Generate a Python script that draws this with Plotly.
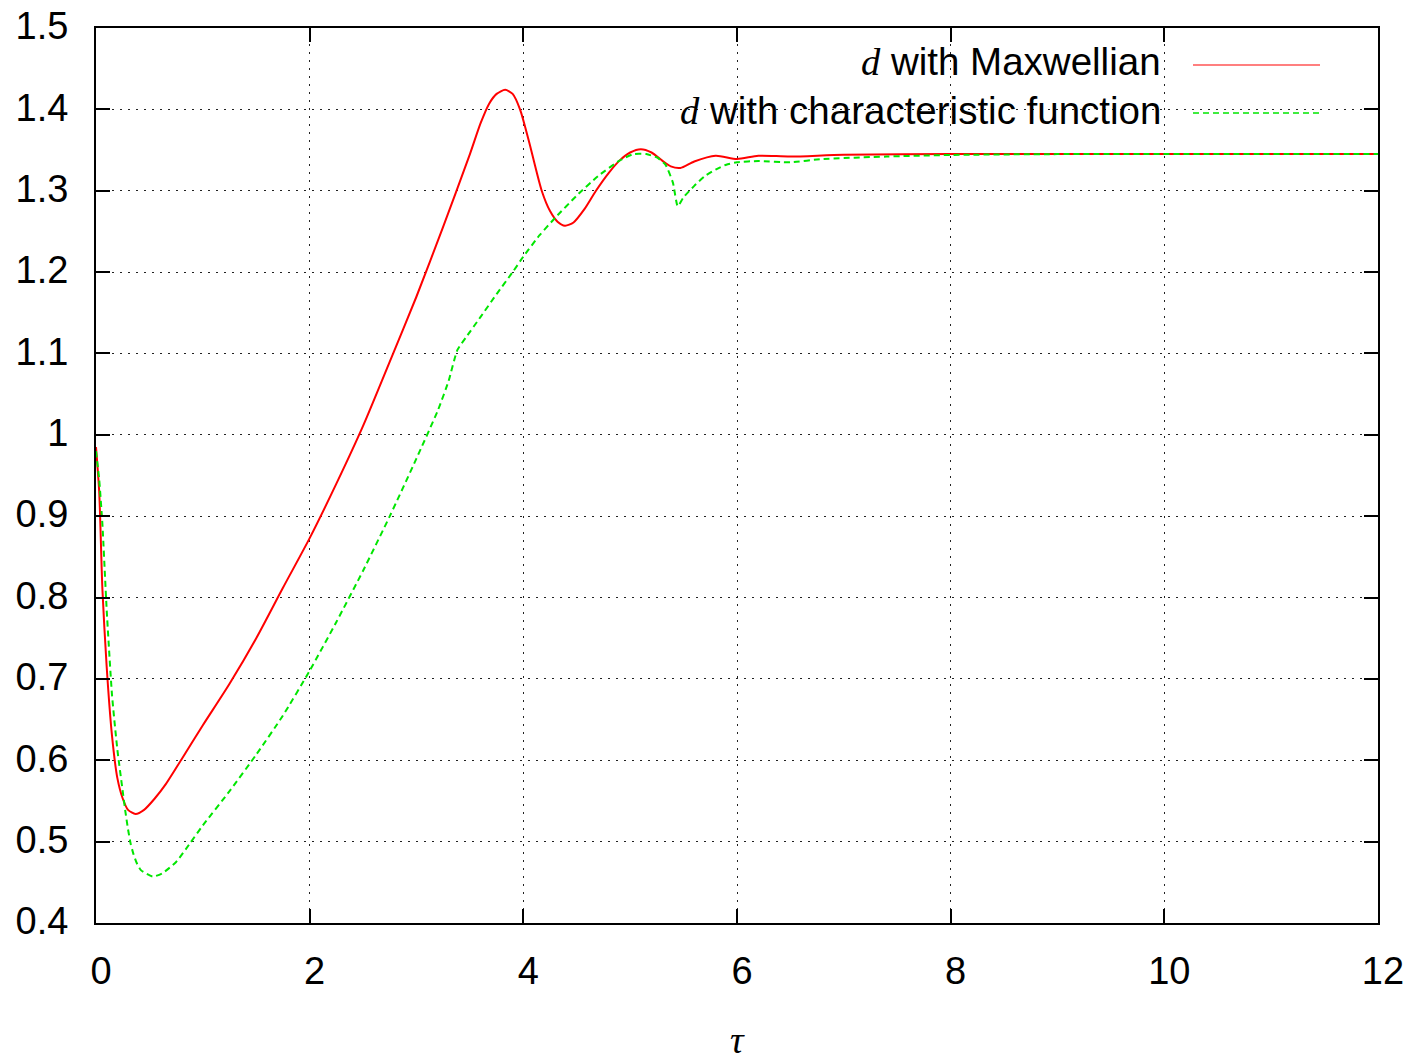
import plotly.graph_objects as go

# tau values and d(tau) for the Maxwellian initial distribution
tau_maxwell = [0.0, 0.03, 0.06, 0.1, 0.15, 0.2, 0.25, 0.3, 0.37, 0.45, 0.55, 0.65,
               0.8, 1.0, 1.25, 1.5, 1.75, 2.0, 2.25, 2.5, 2.75, 3.0, 3.25, 3.5,
               3.6, 3.68, 3.75, 3.83, 3.9, 3.969, 4.05, 4.172, 4.25, 4.32, 4.39,
               4.47, 4.57, 4.68, 4.8, 4.9, 5.0, 5.1, 5.2, 5.3, 5.38, 5.47, 5.6,
               5.8, 6.0, 6.2, 6.5, 7.0, 8.0, 10.0, 12.0]
d_maxwell = [0.985, 0.93, 0.81, 0.715, 0.63, 0.578, 0.553, 0.539, 0.534, 0.539, 0.553, 0.570,
             0.601, 0.643, 0.694, 0.750, 0.812, 0.873, 0.940, 1.011, 1.090, 1.170, 1.256, 1.345,
             1.383, 1.407, 1.419, 1.424, 1.419, 1.400, 1.362, 1.300, 1.275, 1.262, 1.257,
             1.261, 1.277, 1.300, 1.322, 1.337, 1.347, 1.351, 1.347, 1.337, 1.330, 1.328, 1.336,
             1.343, 1.339, 1.343, 1.342, 1.3443, 1.345, 1.345, 1.345]

# tau values and d(tau) for the characteristic-function initial distribution
tau_char = [0.0, 0.03, 0.06, 0.1, 0.15, 0.2, 0.25, 0.275, 0.3, 0.325, 0.35, 0.38, 0.42,
            0.53, 0.62, 0.75, 0.88, 1.0, 1.25, 1.5, 1.75, 2.0, 2.25, 2.5, 2.75, 3.0, 3.2,
            3.3, 3.382, 3.47, 3.6, 3.75, 3.9, 4.0, 4.15, 4.3, 4.5, 4.7, 4.9,
            5.03, 5.15, 5.25, 5.33, 5.4, 5.445, 5.5, 5.6, 5.7, 5.8, 5.9, 6.0,
            6.2, 6.5, 6.8, 7.4, 8.0, 9.0, 12.0]
d_char = [0.98, 0.945, 0.89, 0.785, 0.68, 0.613, 0.562, 0.537, 0.515, 0.497, 0.485, 0.474, 0.465,
          0.457, 0.461, 0.475, 0.498, 0.52, 0.562, 0.607, 0.655, 0.71, 0.77, 0.833, 0.9, 0.971, 1.03,
          1.066, 1.104, 1.121, 1.145, 1.173, 1.2, 1.219, 1.245, 1.267, 1.294, 1.318, 1.337,
          1.345, 1.345, 1.341, 1.332, 1.31, 1.281, 1.292, 1.306, 1.318, 1.326, 1.332, 1.335,
          1.3365, 1.335, 1.339, 1.342, 1.344, 1.345, 1.345]

x_ticks = [0, 2, 4, 6, 8, 10, 12]
y_ticks = [0.4, 0.5, 0.6, 0.7, 0.8, 0.9, 1.0, 1.1, 1.2, 1.3, 1.4, 1.5]
y_tick_text = ["0.4", "0.5", "0.6", "0.7", "0.8", "0.9", "1", "1.1", "1.2", "1.3", "1.4", "1.5"]

legend_labels = ["with Maxwellian", "with characteristic function"]
line_colors = ["#ff0000", "#00e600"]

fig = go.Figure()
fig.add_trace(go.Scatter(
    x=tau_maxwell, y=d_maxwell, mode="lines",
    line=dict(color=line_colors[0], width=2, shape="spline", smoothing=0.7),
    showlegend=False,
))
fig.add_trace(go.Scatter(
    x=tau_char, y=d_char, mode="lines",
    line=dict(color=line_colors[1], width=2, dash="6px,4px", shape="spline", smoothing=0.5),
    showlegend=False,
))

W, H = 1410, 1060
L, R, T, B = 96, 32, 28, 137
pw, ph = W - L - R, H - T - B


def px_x(px):
    return (px - L) / pw


def px_y(py):
    return (H - B - py) / ph


shapes = [
    # key box keeps the grid clear behind the labels
    dict(type="rect", xref="paper", yref="paper", layer="between",
         x0=px_x(620), x1=px_x(1348), y0=px_y(136), y1=px_y(38),
         fillcolor="white", line=dict(width=0)),
    dict(type="line", xref="paper", yref="paper",
         x0=px_x(1193), x1=px_x(1320), y0=px_y(65), y1=px_y(65),
         line=dict(color=line_colors[0], width=1.2)),
    dict(type="line", xref="paper", yref="paper",
         x0=px_x(1193), x1=px_x(1320), y0=px_y(113), y1=px_y(113),
         line=dict(color=line_colors[1], width=1.4, dash="6px,4px")),
]

d_sym = '<span style="font-family:\'Liberation Serif\'"><i>d</i></span> '
annotations = [
    dict(xref="paper", yref="paper", x=px_x(1163), y=px_y(62), xanchor="right", yanchor="middle",
         text=d_sym + legend_labels[0], showarrow=False,
         font=dict(family="Liberation Sans", size=38.5, color="black")),
    dict(xref="paper", yref="paper", x=px_x(1163), y=px_y(110), xanchor="right", yanchor="middle",
         text=d_sym + legend_labels[1], showarrow=False,
         font=dict(family="Liberation Sans", size=38.5, color="black")),
    dict(xref="paper", yref="paper", x=0.5, y=px_y(1040), xanchor="center", yanchor="middle",
         text="<i>τ</i>", showarrow=False,
         font=dict(family="Liberation Serif", size=38, color="black")),
]

axis_common = dict(
    showline=True, linecolor="black", linewidth=2, mirror="ticks",
    ticks="inside", ticklen=14, tickwidth=2, tickcolor="black",
    showgrid=True, gridcolor="#222222", gridwidth=1, griddash="2px,6px",
    zeroline=False, automargin=False,
    tickfont=dict(family="Liberation Sans", size=38, color="black"),
)

fig.update_layout(
    width=W, height=H,
    margin=dict(l=L, r=R, t=T, b=B),
    paper_bgcolor="white", plot_bgcolor="white",
    shapes=shapes, annotations=annotations,
    xaxis=dict(range=[0, 12], tickvals=x_ticks, ticklabelstandoff=13,
               ticklabelshift=5, **axis_common),
    yaxis=dict(range=[0.4, 1.5], tickvals=y_ticks, ticktext=y_tick_text,
               ticklabelstandoff=18, ticklabelshift=-2, **axis_common),
)

fig.write_html("out.html")
